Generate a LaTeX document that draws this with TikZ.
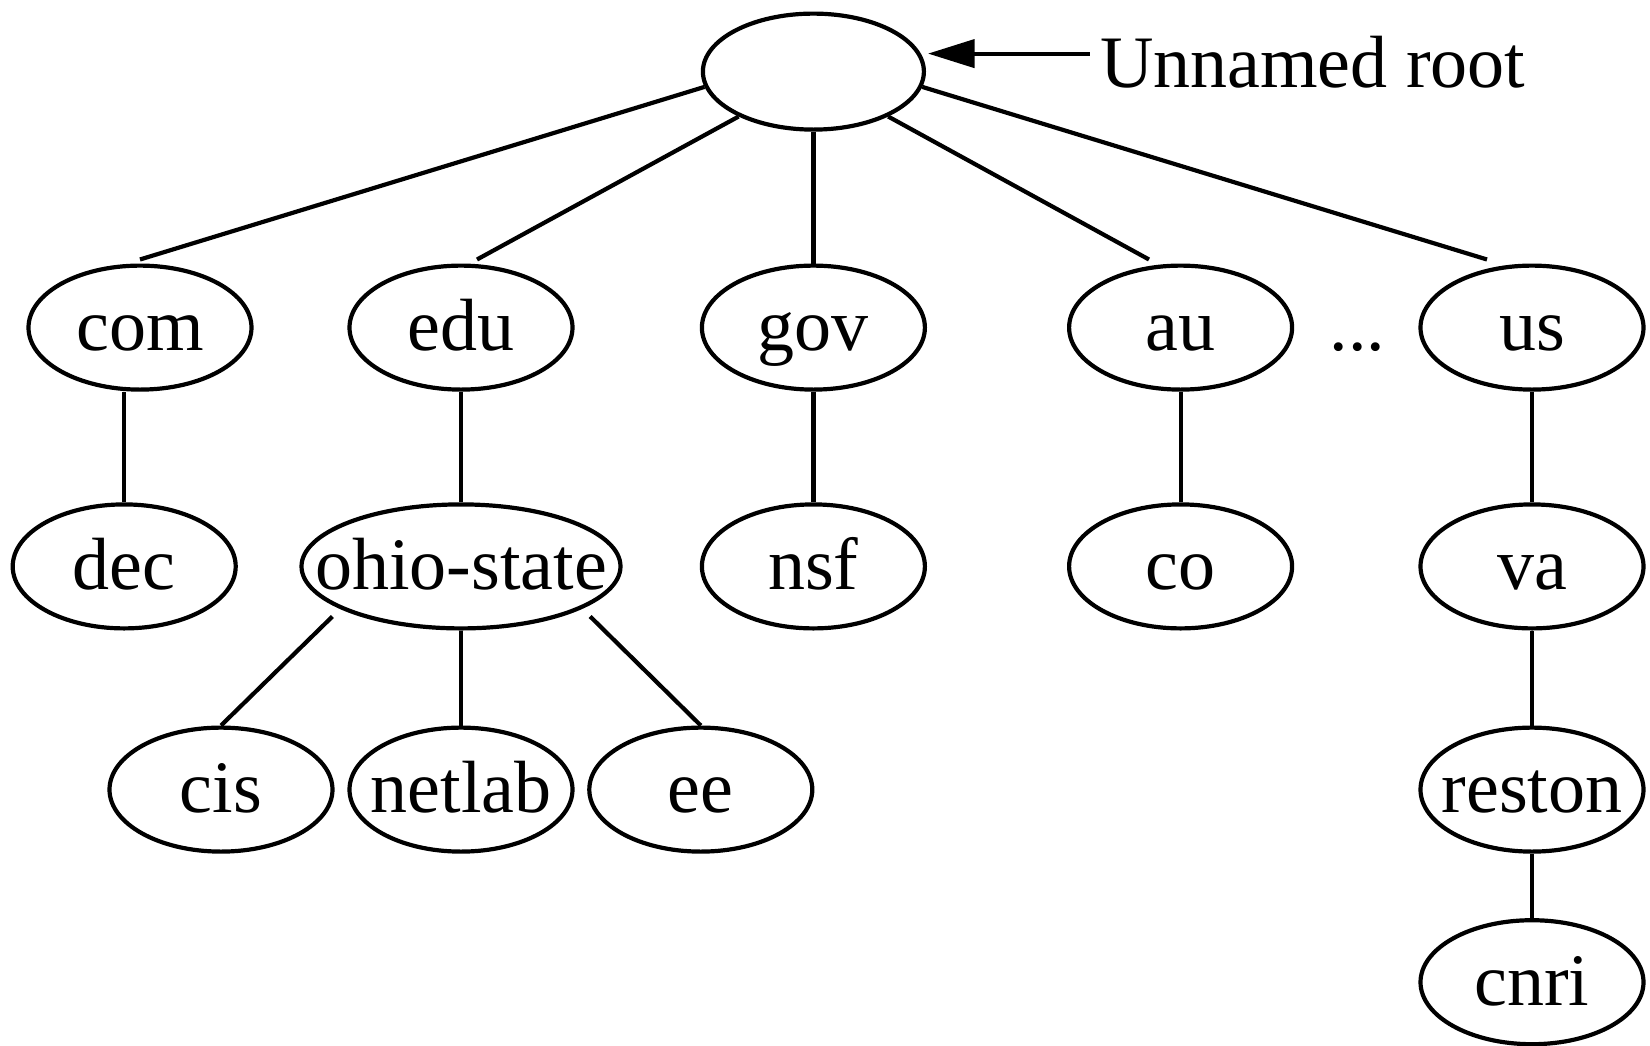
\documentclass[tikz,border=0pt]{standalone}
\usepackage{fontspec}
\setmainfont{Liberation Serif}
\usetikzlibrary{arrows.meta,shapes.geometric,positioning}
\tikzset{
  dnsfont/.style    = {font=\fontsize{37}{40}\selectfont},
  dnsnode/.style    = {draw, ellipse, dnsfont, line width=2.1pt,
                       minimum width=111.5pt, minimum height=62pt,
                       inner xsep=-20pt, inner ysep=0pt,
                       text height=26pt, text depth=3pt},
  rootnode/.style   = {dnsnode, minimum height=58pt, minimum width=110.5pt},
  link/.style       = {line width=2.1pt},
  pointer/.style    = {line width=2.1pt, -{Triangle[length=23.3pt,width=14pt]}}
}

\begin{document}
\begin{tikzpicture}[on grid]
  \useasboundingbox (0,0) rectangle (825pt,-522.5pt);

  % unnamed root and its label
  \node[rootnode] (root) at (406.7pt,-35.8pt) {};
  \node[dnsfont, anchor=base west, inner sep=0pt] (lbl)
    at ([xshift=86.8pt,yshift=-7.9pt]root.east) {Unnamed root};
  \coordinate (tip) at ([xshift=1pt,yshift=9pt]root.east);

  % top level domains
  \node[dnsnode, below=128pt of root] (gov) {gov};
  \node[dnsnode, left=176.2pt of gov] (edu) {edu};
  \node[dnsnode, left=160.5pt of edu] (com) {com};
  \node[dnsnode, right=183.6pt of gov] (au) {au};
  \node[dnsnode, right=175.7pt of au] (us) {us};
  \node[dnsfont, inner sep=0pt, text height=26pt, text depth=3pt,
        right=88.4pt of au] (dots) {...};

  % second level
  \node[dnsnode, below=119.4pt of com, xshift=-7.9pt] (dec) {dec};
  \node[dnsnode, below=119.4pt of edu, minimum width=159.5pt] (ohio) {ohio-state};
  \node[dnsnode, below=119.4pt of gov] (nsf) {nsf};
  \node[dnsnode, below=119.4pt of au] (co) {co};
  \node[dnsnode, below=119.4pt of us] (va) {va};

  % third and fourth level
  \node[dnsnode, below left=111.6pt and 120pt of ohio] (cis) {cis};
  \node[dnsnode, below=111.6pt of ohio] (netlab) {netlab};
  \node[dnsnode, below right=111.6pt and 119.9pt of ohio] (ee) {ee};
  \node[dnsnode, below=111.6pt of va] (reston) {reston};
  \node[dnsnode, below=96.3pt of reston] (cnri) {cnri};

  % lines from the root to the top level domains
  \draw[link] (root.188) -- ([yshift=2pt]com.north);
  \draw[link] (root.211) -- ([xshift=8pt,yshift=2pt]edu.north);
  \draw[link] (root.south) -- (gov.north);
  \draw[link] (root.329) -- ([xshift=-15.8pt,yshift=2pt]au.north);
  \draw[link] (root.352) -- ([xshift=-22.5pt,yshift=2pt]us.north);

  % vertical lines down the tree
  \draw[link] (dec.north) -- (dec.north |- com.south);
  \foreach \a/\b in {edu/ohio, gov/nsf, au/co, us/va, va/reston,
                     reston/cnri, ohio/netlab}
    \draw[link] (\a.south) -- (\b.north);

  % slanted lines below ohio-state
  \draw[link] ([xshift=-64.3pt,yshift=7pt]ohio.south) -- (cis.north);
  \draw[link] ([xshift=64.6pt,yshift=7pt]ohio.south) -- (ee.north);

  % arrow to the root
  \draw[pointer] ([xshift=-5pt]lbl.west |- tip) -- (tip);
\end{tikzpicture}
\end{document}
